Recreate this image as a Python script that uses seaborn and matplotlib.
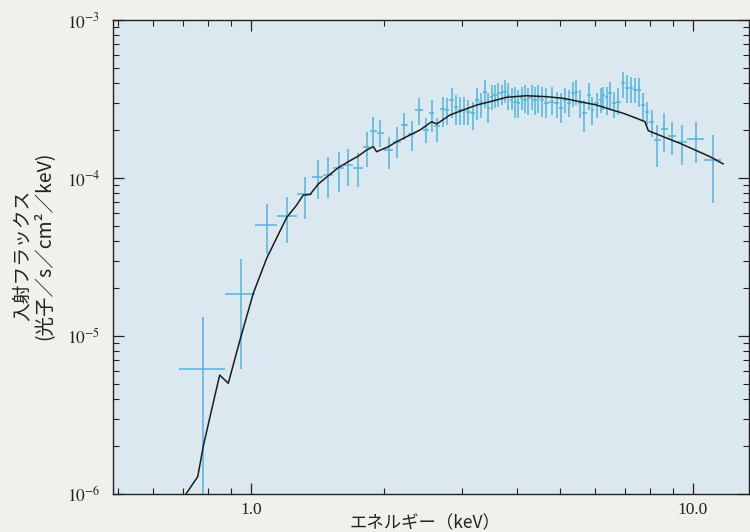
import numpy as np
import pandas as pd
import matplotlib
matplotlib.use("Agg")
import matplotlib.pyplot as plt
import matplotlib.ticker as mticker
import seaborn as sns

# observed spectrum: bin centres (keV), bin edges (keV), flux and 1-sigma range (x1e-4)
energy = [0.779, 0.947, 1.085, 1.208, 1.325, 1.420, 1.496, 1.579, 1.661, 1.743,
          1.827, 1.891, 1.958, 2.052, 2.136, 2.219, 2.31, 2.403, 2.489, 2.564,
          2.632, 2.715, 2.772, 2.846, 2.910, 2.971, 3.038, 3.102, 3.174, 3.251,
          3.314, 3.384, 3.443, 3.504, 3.565, 3.627, 3.692, 3.756, 3.821, 3.889,
          3.957, 4.026, 4.098, 4.170, 4.242, 4.317, 4.392, 4.467, 4.547, 4.650,
          4.790, 4.916, 5.020, 5.134, 5.250, 5.361, 5.437, 5.551, 5.677, 5.818,
          5.919, 6.055, 6.183, 6.266, 6.378, 6.489, 6.626, 6.776, 6.955, 7.102,
          7.228, 7.392, 7.547, 7.695, 7.857, 8.065, 8.303, 8.598, 8.951, 9.428,
          10.16, 11.08]
edges = [0.687, 0.872, 1.02, 1.147, 1.271, 1.375, 1.457, 1.535, 1.625, 1.70,
         1.79, 1.86, 1.925, 2.0, 2.095, 2.18, 2.265, 2.355, 2.445, 2.53,
         2.60, 2.675, 2.745, 2.81, 2.88, 2.94, 3.005, 3.07, 3.14, 3.21,
         3.28, 3.35, 3.415, 3.475, 3.535, 3.595, 3.66, 3.725, 3.79, 3.855,
         3.92, 3.99, 4.06, 4.135, 4.205, 4.28, 4.355, 4.43, 4.505, 4.6,
         4.72, 4.85, 4.97, 5.075, 5.19, 5.305, 5.40, 5.495, 5.615, 5.745,
         5.87, 5.985, 6.12, 6.225, 6.32, 6.435, 6.555, 6.70, 6.865, 7.03,
         7.165, 7.31, 7.47, 7.62, 7.775, 7.96, 8.18, 8.45, 8.77, 9.17,
         9.68, 10.6, 11.6]
flux = [0.0615, 0.1845, 0.504, 0.572, 0.788, 1.02, 1.045, 1.15, 1.208, 1.15,
        1.58, 1.99, 1.94, 1.50, 1.70, 2.16, 1.90, 2.69, 2.01, 2.57,
        2.13, 2.73, 2.69, 3.12, 2.83, 2.69, 2.69, 2.63, 2.57, 3.12,
        3.04, 3.52, 2.76, 3.27, 3.35, 3.44, 3.44, 3.52, 3.35, 3.12,
        3.04, 2.97, 3.19, 3.12, 3.19, 3.27, 3.12, 3.19, 3.12, 2.97,
        3.04, 2.97, 2.76, 3.12, 2.97, 3.44, 3.52, 2.97, 2.57, 3.35,
        2.69, 2.97, 3.12, 3.35, 3.27, 3.44, 2.97, 3.04, 3.97, 3.69,
        3.69, 3.61, 3.61, 2.90, 2.63, 2.27, 1.74, 2.03, 1.85, 1.70,
        1.76, 1.30]
flux_hi = [0.131, 0.307, 0.682, 0.762, 1.01, 1.30, 1.35, 1.47, 1.52, 1.43,
           1.96, 2.42, 2.33, 1.81, 2.11, 2.59, 2.31, 3.19, 2.40, 3.12,
           2.40, 3.27, 3.19, 3.69, 3.35, 3.27, 3.27, 3.12, 3.04, 3.69,
           3.44, 4.17, 3.44, 3.88, 3.88, 3.97, 3.88, 4.17, 3.97, 3.69,
           3.78, 3.61, 3.78, 3.88, 3.69, 3.88, 3.78, 3.88, 3.78, 3.69,
           3.78, 3.52, 3.44, 3.69, 3.61, 4.07, 4.17, 3.61, 3.12, 3.97,
           3.27, 3.44, 3.69, 3.78, 3.78, 4.07, 3.52, 3.69, 4.71, 4.49,
           4.38, 4.28, 4.28, 3.44, 3.04, 2.69, 2.16, 2.57, 2.27, 2.16,
           2.27, 1.87]
flux_lo = [0.005, 0.0618, 0.330, 0.386, 0.548, 0.733, 0.744, 0.819, 0.89, 0.873,
           1.18, 1.58, 1.58, 1.135, 1.33, 1.74, 1.49, 2.16, 1.67, 1.96,
           1.69, 2.11, 2.16, 2.39, 2.16, 2.16, 2.16, 2.16, 2.01, 2.33,
           2.39, 2.76, 2.22, 2.69, 2.76, 2.83, 2.90, 2.97, 2.69, 2.69,
           2.39, 2.39, 2.69, 2.57, 2.50, 2.69, 2.50, 2.57, 2.44, 2.39,
           2.50, 2.39, 2.22, 2.57, 2.44, 2.83, 2.90, 2.39, 1.96, 2.69,
           2.16, 2.39, 2.57, 2.69, 2.50, 2.69, 2.39, 2.50, 3.19, 2.97,
           2.97, 2.97, 2.83, 2.33, 2.16, 1.83, 1.18, 1.47, 1.40, 1.21,
           1.24, 0.692]

# best-fit model curve
model_e = [0.7126, 0.7577, 0.7796, 0.8078, 0.8495, 0.8884, 0.9443, 1.012, 1.085, 1.204,
           1.269, 1.313, 1.360, 1.420, 1.496, 1.576, 1.660, 1.749, 1.827, 1.891,
           1.924, 2.045, 2.136, 2.289, 2.412, 2.564, 2.632, 2.820, 3.022, 3.241,
           3.473, 3.788, 4.205, 4.667, 5.089, 5.552, 6.055, 6.489, 6.956, 7.459,
           7.789, 7.924, 8.566, 9.346, 10.19, 10.93, 11.71]
model_f = [0.0100, 0.01287, 0.01993, 0.03085, 0.0566, 0.0502, 0.0943, 0.1863, 0.310, 0.562,
           0.675, 0.780, 0.786, 0.916, 1.034, 1.162, 1.268, 1.377, 1.504, 1.578,
           1.467, 1.578, 1.697, 1.871, 2.012, 2.272, 2.197, 2.505, 2.694, 2.897,
           3.040, 3.242, 3.318, 3.270, 3.194, 3.040, 2.897, 2.721, 2.568, 2.386,
           2.272, 1.992, 1.825, 1.658, 1.489, 1.364, 1.227]

scale = 1e-4
df = pd.DataFrame({"E": energy, "F": np.array(flux) * scale,
                   "lo": np.array(flux_lo) * scale, "hi": np.array(flux_hi) * scale,
                   "e0": edges[:-1], "e1": edges[1:]})
model = pd.DataFrame({"E": model_e, "F": np.array(model_f) * scale})

sns.set_theme(style="ticks")
plt.rcParams["font.family"] = ["Liberation Serif", "DejaVu Serif"]
plt.rcParams["mathtext.fontset"] = "stix"
jp = ["Noto Sans CJK JP", "DejaVu Sans"]

fig = plt.figure(figsize=(7.5, 5.32), dpi=100)
fig.patch.set_facecolor("#f1f0ec")
ax = fig.add_axes([113 / 750, 38 / 532, 636 / 750, 474 / 532])
ax.set_facecolor("#dce8ef")
ax.set_xscale("log")
ax.set_yscale("log")

# data crosses, then the model on top
ax.errorbar(df["E"], df["F"],
            yerr=[df["F"] - df["lo"], df["hi"] - df["F"]],
            xerr=[df["E"] - df["e0"], df["e1"] - df["E"]],
            fmt="none", ecolor="#52b4dd", elinewidth=1.1, capsize=0, zorder=2)
sns.lineplot(data=model, x="E", y="F", sort=False, estimator=None,
             color="#1c1c1c", linewidth=1.1, ax=ax, zorder=3)

ax.set_xlim(0.4873, 13.39)
ax.set_ylim(1e-6, 1e-3)

ax.xaxis.set_major_locator(mticker.FixedLocator([1.0, 10.0]))
ax.xaxis.set_major_formatter(mticker.FixedFormatter(["1.0", "10.0"]))
ax.xaxis.set_minor_locator(mticker.LogLocator(base=10, subs=np.arange(2, 10)))
ax.xaxis.set_minor_formatter(mticker.NullFormatter())
ax.yaxis.set_major_locator(mticker.FixedLocator([1e-6, 1e-5, 1e-4, 1e-3]))
ax.yaxis.set_major_formatter(mticker.FuncFormatter(
    lambda v, p: r"$10^{%d}$" % int(round(np.log10(v)))))
ax.yaxis.set_minor_locator(mticker.LogLocator(base=10, subs=np.arange(2, 10)))
ax.yaxis.set_minor_formatter(mticker.NullFormatter())

ax.tick_params(which="both", direction="in", top=True, right=True,
               color="#222222", labelsize=12.5, labelcolor="#222222")
ax.tick_params(which="major", length=8, width=0.9)
ax.tick_params(which="minor", length=4, width=0.8)
ax.tick_params(axis="y", pad=9)
ax.tick_params(axis="x", pad=6)
for s in ax.spines.values():
    s.set_color("#222222")
    s.set_linewidth(1.0)

ax.set_xlabel("")
ax.set_ylabel("")
fig.text(425 / 750, 1 - 523 / 532, "エネルギー（keV）", ha="center", va="center",
         fontsize=12.5, family=jp, color="#222222")
fig.text(22 / 750, 1 - 255 / 532, "入射フラックス", rotation=90, ha="center",
         va="center", fontsize=13.5, family=jp, color="#222222")
fig.text(44 / 750, 1 - 246 / 532, "(光子／s／cm²／keV)", rotation=90, ha="center",
         va="center", fontsize=14, family=jp, color="#222222")

fig.savefig("out.png", dpi=100, facecolor=fig.get_facecolor())
